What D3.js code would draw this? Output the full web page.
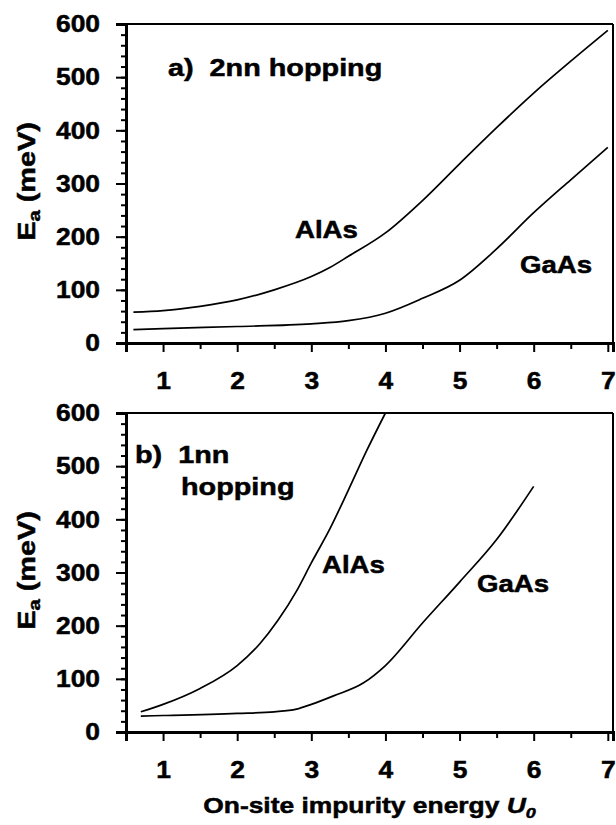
<!DOCTYPE html>
<html>
<head>
<meta charset="utf-8">
<script src="https://cdn.jsdelivr.net/npm/d3@7"></script>
<style>
  body { margin: 0; background: #fff; }
  svg text { font-family: "Liberation Sans", Arial, Helvetica, sans-serif; font-weight: bold; fill: #000; stroke: #000; stroke-width: 0.5px; }
</style>
</head>
<body>
<div id="chart"></div>
<script>
// tick values
let xMajor = [1, 2, 3, 4, 5, 6, 7];
let xMinor = [0.5, 1.5, 2.5, 3.5, 4.5, 5.5, 6.5];
let yMajor = [0, 100, 200, 300, 400, 500, 600];
let yMinor = d3.range(0, 601, 20);

// a) 2nn hopping
let alas2nnU = [0.6, 1, 1.5, 2, 2.5, 3, 3.25, 3.5, 4, 4.5, 5, 5.5, 6, 6.5, 7];
let alas2nnE = [58, 61, 69, 81, 100, 125, 142, 163, 207, 268, 337, 405, 470, 530, 588];
let gaas2nnU = [0.6, 1, 2, 3, 3.5, 4, 4.5, 5, 5.5, 6, 6.5, 7];
let gaas2nnE = [25, 27, 31, 36, 42, 56, 84, 118, 177, 245, 307, 368];

// b) 1nn hopping
let alas1nnU = [0.7, 1, 1.5, 2, 2.3, 2.55, 2.8, 3.0, 3.25, 3.5, 3.75, 4.0];
let alas1nnE = [38, 52, 82, 125, 165, 210, 265, 318, 382, 455, 530, 600];
let gaas1nnU = [0.7, 1, 2, 2.5, 2.8, 3.0, 3.3, 3.7, 4.0, 4.5, 5.0, 5.5, 6.0];
let gaas1nnE = [30, 31, 35, 38, 43, 52, 68, 92, 125, 205, 282, 362, 462];

// set svg width and height
let svgWidth = 616;
let svgHeight = 825;
let stretch = 1.2;

let svg = d3.select("#chart")
  .append("svg")
  .attr("width", svgWidth)
  .attr("height", svgHeight);

// shared x scale
let xScale = d3.scaleLinear()
  .domain([0.5, 7.07])
  .range([126, 613]);

// helper for horizontally stretched text
function label(x, y, str, size, anchor) {
  return svg.append("text")
    .attr("transform", `translate(${x}, ${y}) scale(${stretch}, 1)`)
    .attr("text-anchor", anchor || "start")
    .attr("font-size", size)
    .text(str);
}

function panel(top, bottom, series) {
  let yScale = d3.scaleLinear()
    .domain([0, 600])
    .range([bottom, top]);

  // frame top and right
  svg.append("line")
    .attr("x1", xScale.range()[0]).attr("x2", xScale.range()[1])
    .attr("y1", top).attr("y2", top)
    .attr("stroke", "#000").attr("stroke-width", 2);
  svg.append("line")
    .attr("x1", xScale.range()[1]).attr("x2", xScale.range()[1])
    .attr("y1", top).attr("y2", bottom)
    .attr("stroke", "#000").attr("stroke-width", 2);

  // minor ticks
  svg.append("g")
    .attr("transform", `translate(${xScale.range()[0]}, 0)`)
    .call(d3.axisLeft(yScale).tickValues(yMinor).tickSize(5).tickFormat(""))
    .call(g => g.select(".domain").remove())
    .call(g => g.selectAll("line").attr("stroke-width", 2));
  svg.append("g")
    .attr("transform", `translate(0, ${bottom})`)
    .call(d3.axisBottom(xScale).tickValues(xMinor).tickSize(6).tickFormat(""))
    .call(g => g.select(".domain").remove())
    .call(g => g.selectAll("line").attr("stroke-width", 2));

  // major ticks with labels
  let yAxis = svg.append("g")
    .attr("transform", `translate(${xScale.range()[0]}, 0)`)
    .call(d3.axisLeft(yScale).tickValues(yMajor).tickSizeOuter(0).tickSize(10)
      .tickFormat(d3.format("d")));
  yAxis.select(".domain").attr("stroke-width", 3);
  yAxis.selectAll("line").attr("stroke-width", 2);
  yAxis.selectAll("text")
    .attr("font-size", 24)
    .attr("font-family", null)
    .attr("transform", "scale(1.1, 1)")
    .attr("x", -26 / 1.1);

  let xAxis = svg.append("g")
    .attr("transform", `translate(0, ${bottom})`)
    .call(d3.axisBottom(xScale).tickValues(xMajor).tickSizeOuter(0).tickSize(9).tickPadding(20)
      .tickFormat(d3.format("d")));
  xAxis.select(".domain").attr("stroke-width", 3);
  xAxis.selectAll("line").attr("stroke-width", 2);
  xAxis.selectAll("text")
    .attr("font-size", 24)
    .attr("font-family", null)
    .attr("transform", "scale(1.1, 1)");

  // curves
  let line = d3.line()
    .x(d => xScale(d[0]))
    .y(d => yScale(d[1]))
    .curve(d3.curveMonotoneX);

  series.forEach(s => {
    svg.append("path")
      .datum(d3.zip(s[0], s[1]))
      .attr("fill", "none")
      .attr("stroke", "#000")
      .attr("stroke-width", 1.7)
      .attr("d", line);
  });

  // y axis title
  let yt = svg.append("text")
    .attr("transform", `translate(35, ${(top + bottom) / 2 - 2}) rotate(-90) scale(${stretch}, 1)`)
    .attr("text-anchor", "middle")
    .attr("font-size", 24);
  yt.append("tspan").text("E");
  yt.append("tspan").attr("font-size", 17).attr("dy", 5).text("a");
  yt.append("tspan").attr("dy", -5).text(" (meV)");

  return yScale;
}

// top panel
panel(24, 343, [[alas2nnU, alas2nnE], [gaas2nnU, gaas2nnE]]);
label(168, 76, "a)\u00a0\u00a02nn hopping", 24);
label(295, 238, "AlAs", 23);
label(520, 273, "GaAs", 23);

// bottom panel
panel(413, 732, [[alas1nnU, alas1nnE], [gaas1nnU, gaas1nnE]]);
label(135, 463, "b)\u00a0\u00a01nn", 24);
label(181, 495, "hopping", 24);
label(322, 573, "AlAs", 23);
label(477, 592, "GaAs", 23);

// x axis title
let xt = svg.append("text")
  .attr("transform", `translate(${(xScale.range()[0] + xScale.range()[1]) / 2}, 813) scale(${stretch}, 1)`)
  .attr("text-anchor", "middle")
  .attr("font-size", 22);
xt.append("tspan").text("On-site impurity energy ");
xt.append("tspan").attr("font-style", "italic").text("U");
xt.append("tspan").attr("font-style", "italic").attr("font-size", 15).attr("dy", 5).text("0");
</script>
</body>
</html>
